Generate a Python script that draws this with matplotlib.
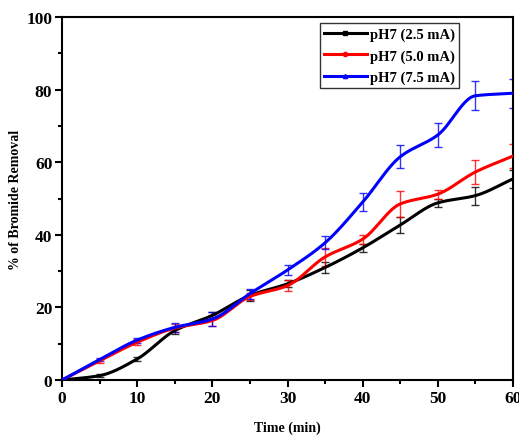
import matplotlib.pyplot as plt
import numpy as np
from matplotlib.ticker import MultipleLocator

time = [0, 5, 10, 15, 20, 25, 30, 35, 40, 45, 50, 55, 60]

ph7_25 = [0, 1.2, 5.8, 13.6, 17.8, 23.3, 26.5, 31.0, 36.4, 42.7, 48.8, 50.8, 55.4]
ph7_25_err = [0, 0.4, 0.6, 1.0, 1.0, 1.5, 1.0, 1.6, 1.2, 2.2, 1.2, 2.5, 2.5]

ph7_50 = [0, 5.3, 10.4, 14.3, 16.4, 23.0, 26.0, 33.9, 38.8, 48.5, 51.2, 57.3, 61.7]
ph7_50_err = [0, 0.5, 0.8, 1.0, 1.6, 1.0, 1.6, 2.6, 1.2, 3.5, 1.2, 3.2, 3.2]

ph7_75 = [0, 5.6, 11.0, 14.5, 16.8, 23.8, 30.3, 37.8, 49.0, 61.5, 67.5, 78.3, 79.0]
ph7_75_err = [0, 0.4, 0.7, 1.2, 1.8, 1.4, 1.3, 1.8, 2.5, 3.2, 3.3, 4.0, 4.0]

labels = ["pH7 (2.5 mA)", "pH7 (5.0 mA)", "pH7 (7.5 mA)"]
colors = ["black", "red", "blue"]
markers = ["s", "o", "^"]


def smooth(x, y, n=25):
    # monotone cubic (Fritsch-Carlson) through the points, no overshoot
    x = np.asarray(x, float)
    y = np.asarray(y, float)
    h = np.diff(x)
    d = np.diff(y) / h
    m = np.zeros_like(y)
    m[0], m[-1] = d[0], d[-1]
    for i in range(1, len(y) - 1):
        if d[i - 1] * d[i] <= 0:
            m[i] = 0
        else:
            w1 = 2 * h[i] + h[i - 1]
            w2 = h[i] + 2 * h[i - 1]
            m[i] = (w1 + w2) / (w1 / d[i - 1] + w2 / d[i])
    xs, ys = [], []
    t = np.linspace(0, 1, n, endpoint=False)
    for i in range(len(x) - 1):
        h00 = 2 * t ** 3 - 3 * t ** 2 + 1
        h10 = t ** 3 - 2 * t ** 2 + t
        h01 = -2 * t ** 3 + 3 * t ** 2
        h11 = t ** 3 - t ** 2
        xs.extend(x[i] + t * h[i])
        ys.extend(h00 * y[i] + h10 * h[i] * m[i] + h01 * y[i + 1] + h11 * h[i] * m[i + 1])
    xs.append(x[-1])
    ys.append(y[-1])
    return np.array(xs), np.array(ys)


plt.rcParams["font.family"] = ["Liberation Serif", "DejaVu Serif"]
plt.rcParams["font.weight"] = "bold"

fig = plt.figure(figsize=(5.19, 4.39), dpi=100)
ax = fig.add_axes([0.1195, 0.1321, 0.8689, 0.8269])

for y, e, lab, c, m in zip([ph7_25, ph7_50, ph7_75],
                           [ph7_25_err, ph7_50_err, ph7_75_err],
                           labels, colors, markers):
    sx, sy = smooth(time, y)
    ax.plot(sx, sy, color=c, lw=2.2, zorder=3)
    ax.errorbar(time, y, yerr=e, fmt="none", ecolor=c, elinewidth=1.0,
                capsize=3, capthick=1.0, alpha=0.8, zorder=2)
    ax.plot([], [], color=c, lw=2.2, marker=m, markersize=3, label=lab)

ax.set_xlim(0, 60)
ax.set_ylim(0, 100)
ax.xaxis.set_major_locator(MultipleLocator(10))
ax.xaxis.set_minor_locator(MultipleLocator(5))
ax.yaxis.set_major_locator(MultipleLocator(20))
ax.yaxis.set_minor_locator(MultipleLocator(10))
ax.tick_params(which="major", direction="out", length=5, width=1.5,
               labelsize=12.5, pad=2)
ax.tick_params(which="minor", direction="out", length=3, width=1.5)
for lab in ax.get_xticklabels() + ax.get_yticklabels():
    lab.set_fontweight("bold")
for s in ax.spines.values():
    s.set_linewidth(1.5)

ax.set_xlabel("Time (min)", fontsize=10, fontweight="bold", labelpad=11)
ax.set_ylabel("% of Bromide Removal", fontsize=10, fontweight="bold", labelpad=3)

leg = ax.legend(loc="upper left", bbox_to_anchor=(0.572, 0.983), fontsize=10.5,
                frameon=True, fancybox=False, edgecolor="black",
                handlelength=2.9, handletextpad=0.2, borderpad=0.3,
                labelspacing=0.55, borderaxespad=0)
leg.get_frame().set_linewidth(1.0)
for t in leg.get_texts():
    t.set_fontweight("bold")

fig.savefig("out.png", dpi=100)
plt.close(fig)
